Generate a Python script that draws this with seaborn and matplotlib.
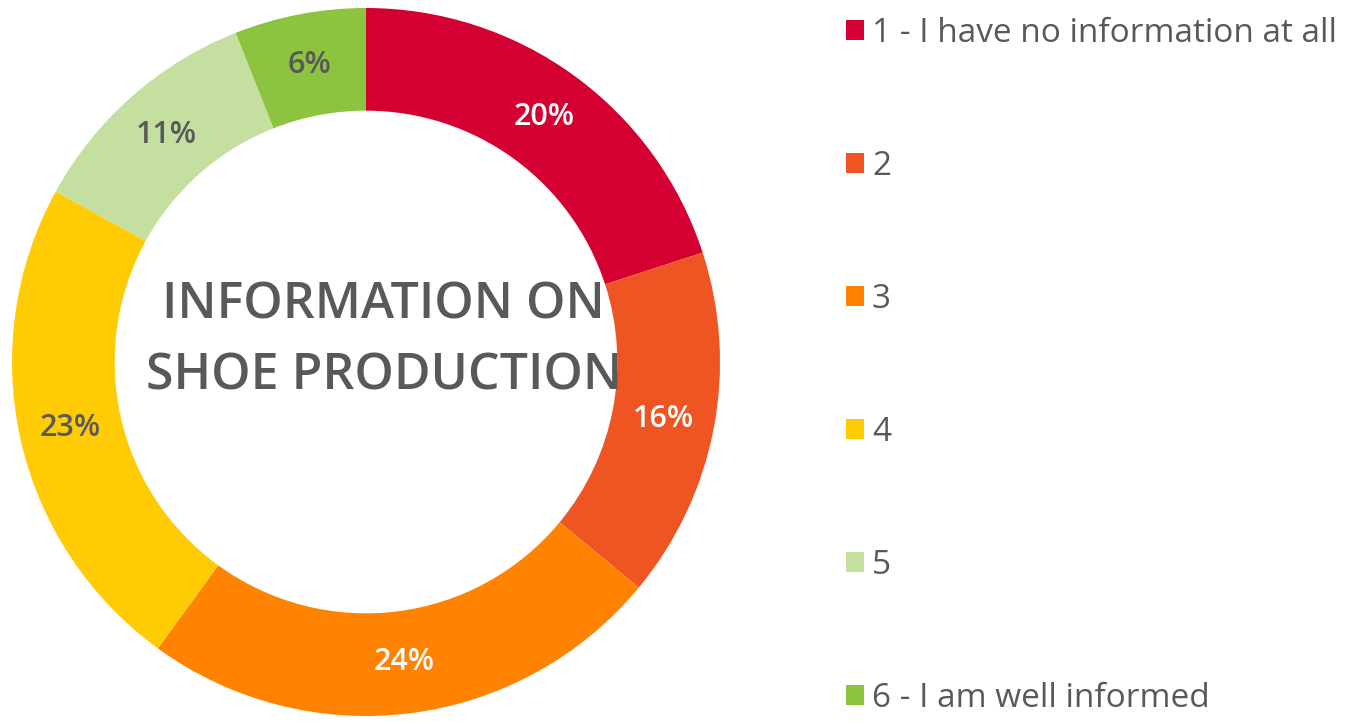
import matplotlib
matplotlib.use("Agg")
import matplotlib.pyplot as plt
import seaborn as sns
from matplotlib.patches import Patch

categories = ["1 - I have no information at all", "2", "3", "4", "5", "6 - I am well informed"]
values = [20, 16, 24, 23, 11, 6]
colors = ["#D50032", "#EE5523", "#FF8200", "#FFCB05", "#C4DFA0", "#8CC43F"]
label_colors = ["white", "white", "white", "#595959", "#595959", "#595959"]
center_title = "INFORMATION ON\nSHOE PRODUCTION"

sns.set_theme(style="white")
plt.rcParams['font.family'] = ['Open Sans', 'DejaVu Sans']
palette = sns.color_palette(colors)

W, H = 1356, 723
fig = plt.figure(figsize=(W / 100, H / 100), dpi=100)
fig.patch.set_facecolor("white")

cx, cy, R = 366, 362, 354
ax = fig.add_axes([(cx - R) / W, (H - cy - R) / H, 2 * R / W, 2 * R / H])
wedges, texts = ax.pie(values, colors=palette, startangle=90, counterclock=False,
                       radius=1.0, wedgeprops=dict(width=0.29, edgecolor="none"),
                       labels=[f"{v}%" for v in values], labeldistance=0.855)
for t, c in zip(texts, label_colors):
    t.set_color(c)
    t.set_fontsize(22)
    t.set_fontweight("semibold")
    t.set_ha("center")
    t.set_va("center")
ax.set_xlim(-1, 1)
ax.set_ylim(-1, 1)
ax.set_aspect("equal")
ax.axis("off")
ax.text(0.05, 0.059, center_title, ha="center", va="center", fontsize=36,
        fontweight="semibold", color="#595959", linespacing=1.55)

handles = [Patch(facecolor=c, edgecolor="none") for c in palette]
leg = fig.legend(handles, categories, loc="upper left", bbox_to_anchor=(829 / W, 1.0),
                 frameon=False, prop=dict(size=24), labelcolor="#595959",
                 handlelength=0.54, handleheight=0.54, handletextpad=0.25,
                 labelspacing=3.0, borderaxespad=0.0, borderpad=0.5)

fig.savefig("out.png", dpi=100, facecolor="white")
